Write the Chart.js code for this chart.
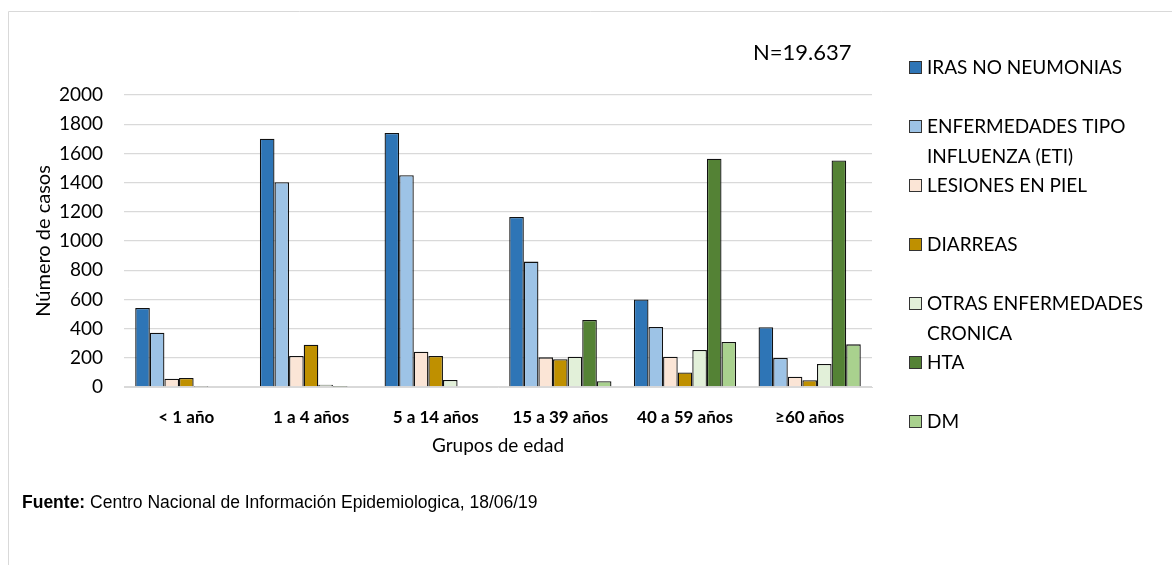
<!DOCTYPE html>
<html>
<head>
<meta charset="utf-8">
<script src="https://cdn.jsdelivr.net/npm/chart.js@4"></script>
<style>
  body { margin: 0; background: #fff; }
  #wrap { width: 1172px; height: 565px; }
</style>
</head>
<body>
<div id="wrap"><canvas id="chart" width="1172" height="565"></canvas></div>
<script>
// datos del grafico
const grupos = ['< 1 año', '1 a 4 años', '5 a 14 años', '15 a 39 años', '40 a 59 años', '≥60 años'];

const iras     = [541, 1700, 1740, 1164, 599, 409];
const eti      = [372, 1402, 1450, 859, 411, 199];
const lesiones = [57, 212, 242, 203, 208, 71];
const diarreas = [62, 290, 212, 190, 100, 46];
const otras    = [2, 16, 48, 208, 253, 158];
const hta      = [0, 2, 5, 459, 1564, 1551];
const dm       = [0, 0, 0, 39, 308, 292];

const series = [
    { name: 'IRAS NO NEUMONIAS', values: iras, color: '#2E75B6' },
    { name: 'ENFERMEDADES TIPO\nINFLUENZA (ETI)', values: eti, color: '#9DC3E6' },
    { name: 'LESIONES EN PIEL', values: lesiones, color: '#FBE5D6' },
    { name: 'DIARREAS', values: diarreas, color: '#BF9000' },
    { name: 'OTRAS ENFERMEDADES\nCRONICA', values: otras, color: '#E2F0D9' },
    { name: 'HTA', values: hta, color: '#548235' },
    { name: 'DM', values: dm, color: '#A9D18E' },
];

const yTicks = [0, 200, 400, 600, 800, 1000, 1200, 1400, 1600, 1800, 2000];
const totalTexto = 'N=19.637';

// marco, leyenda, N y fuente
const extras = {
    id: 'extras',
    beforeDraw(chart) {
        const ctx = chart.ctx;
        ctx.save();
        ctx.strokeStyle = '#d9d9d9';
        ctx.lineWidth = 1;
        ctx.beginPath();
        ctx.moveTo(8.5, 565);
        ctx.lineTo(8.5, 11.5);
        ctx.lineTo(1172, 11.5);
        ctx.stroke();
        ctx.restore();
    },
    afterDraw(chart) {
        const ctx = chart.ctx;
        ctx.save();
        ctx.fillStyle = '#000';
        ctx.textBaseline = 'middle';

        ctx.font = '22px Lato';
        ctx.fillText(totalTexto, 753, 53);

        // leyenda
        chart.data.datasets.forEach((ds, i) => {
            const y = 68 + i * 59;
            ctx.fillStyle = ds.backgroundColor;
            ctx.fillRect(909.5, y - 6.5, 12, 12);
            ctx.strokeStyle = '#333';
            ctx.lineWidth = 1;
            ctx.strokeRect(909.5, y - 6.5, 12, 12);
            ctx.fillStyle = '#000';
            ctx.font = '19px Lato';
            series[i].name.split('\n').forEach((line, j) => {
                ctx.fillText(line, 927, y + j * 30);
            });
        });

        // fuente
        ctx.font = 'bold 17.5px "Liberation Sans"';
        ctx.fillText('Fuente:', 22, 503);
        const w = ctx.measureText('Fuente: ').width;
        ctx.font = '17.5px "Liberation Sans"';
        ctx.fillText('Centro Nacional de Información Epidemiologica, 18/06/19', 22 + w, 503);
        ctx.restore();
    }
};

new Chart(document.getElementById('chart'), {
    type: 'bar',
    data: {
        labels: grupos,
        datasets: series.map(s => ({
            label: s.name.replace('\n', ' '),
            data: s.values,
            backgroundColor: s.color,
            borderColor: '#111',
            borderWidth: 1.3,
            categoryPercentage: 0.82,
            barPercentage: 1,
        })),
    },
    options: {
        responsive: false,
        animation: false,
        layout: {
            padding: { top: 95, right: 300, bottom: 108, left: 0 },
        },
        plugins: {
            legend: { display: false },
            tooltip: { enabled: false },
        },
        scales: {
            x: {
                grid: { display: false },
                border: { color: '#d9d9d9' },
                ticks: {
                    color: '#000',
                    padding: 12,
                    font: { family: 'Lato', size: 17, weight: 'bold' },
                },
                title: {
                    display: true,
                    text: 'Grupos de edad',
                    color: '#000',
                    font: { family: 'Lato', size: 19 },
                    padding: { top: 0, bottom: 0 },
                },
                afterFit(scale) { scale.height = 70; },
            },
            y: {
                min: 0,
                max: 2000,
                afterBuildTicks(scale) { scale.ticks = yTicks.map(v => ({ value: v })); },
                grid: { color: '#d9d9d9', drawTicks: false, lineWidth: 1.3 },
                border: { display: false },
                ticks: {
                    color: '#000',
                    padding: 21,
                    font: { family: 'Lato', size: 19 },
                    callback: v => String(v),
                },
                title: {
                    display: true,
                    text: 'Número de casos',
                    color: '#000',
                    font: { family: 'Lato', size: 20 },
                    padding: { top: 32, bottom: 0 },
                },
                afterFit(scale) { scale.width = 124; },
            },
        },
    },
    plugins: [extras],
});
</script>
</body>
</html>
